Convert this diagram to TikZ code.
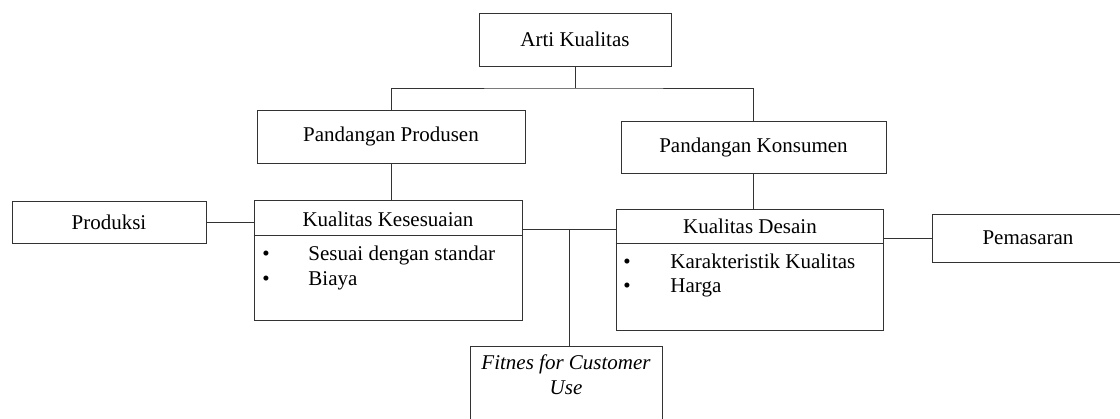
\documentclass[tikz,border=0pt]{standalone}
\usepackage{fontspec}
\setmainfont{Liberation Serif}
\begin{document}
\begin{tikzpicture}[x=1pt,y=-1pt,
  line width=0.9pt,
  every node/.style={font=\fontsize{21}{25}\selectfont},
  box/.style={draw=black!80, rectangle, inner sep=0pt},
  txt/.style={inner sep=0pt},
  wire/.style={draw=black!80}]
\useasboundingbox (0,0) rectangle (1120,418);
\clip (0,0) rectangle (1120,418);

% boxes
\node[box, minimum width=192, minimum height=53] (arti) at (575,39.5) {Arti Kualitas};
\node[box, minimum width=268, minimum height=53] (produsen) at (391,136.5) {Pandangan Produsen};
\node[box, minimum width=265, minimum height=52] (konsumen) at (753.5,147) {Pandangan Konsumen};
\node[box, minimum width=194, minimum height=42] (produksi) at (109,222) {Produksi};
\node[box, minimum width=268, minimum height=120] (kesesuaian) at (388,260) {};
\node[box, minimum width=267, minimum height=121] (desain) at (749.5,269.5) {};
\node[box, minimum width=192, minimum height=48] (pemasaran) at (1028,238) {Pemasaran};
\node[box, minimum width=192, minimum height=84] (fitnes) at (566,388) {};

% compartment headers and dividers
\node[txt, anchor=base] (kesTitle) at (388,226) {Kualitas Kesesuaian};
\draw[wire] (kesesuaian.west |- 0,235) -- (kesesuaian.east |- 0,235);
\node[txt, anchor=base] (desTitle) at (750,233) {Kualitas Desain};
\draw[wire] (desain.west |- 0,243) -- (desain.east |- 0,243);

% bullet lists
\node[txt, anchor=base] (b1) at (266,260) {•};
\node[txt, anchor=base west] (k1) at (308,260) {Sesuai dengan standar};
\node[txt, anchor=base] (b2) at (266,285) {•};
\node[txt, anchor=base west] (k2) at (308,285) {Biaya};
\node[txt, anchor=base] (b3) at (627,268) {•};
\node[txt, anchor=base west] (d1) at (670,268) {Karakteristik Kualitas};
\node[txt, anchor=base] (b4) at (627,292) {•};
\node[txt, anchor=base west] (d2) at (670,292) {Harga};

% italic label of the bottom box
\node[txt, align=center, font=\fontsize{21}{25}\selectfont\itshape] (fitTxt) at (566,374.5) {Fitnes for Customer\\Use};

% connectors
\coordinate (j1) at (575,88);
\coordinate (j2) at (569,229);
\draw[wire] (arti.south) -- (j1);
\draw[wire] (produsen.north) |- (j1) -| (konsumen.north);
\draw[wire] (produsen.south) -- (produsen.south |- kesesuaian.north);
\draw[wire] (konsumen.south) -- (konsumen.south |- desain.north);
\draw[wire] (produksi.east) -- (produksi.east -| kesesuaian.west);
\draw[wire] (kesesuaian.east |- j2) -- (desain.west |- j2);
\draw[wire] (j2) -- (j2 |- fitnes.north);
\draw[wire] (desain.east |- pemasaran.west) -- (pemasaran.west);
\end{tikzpicture}
\end{document}
